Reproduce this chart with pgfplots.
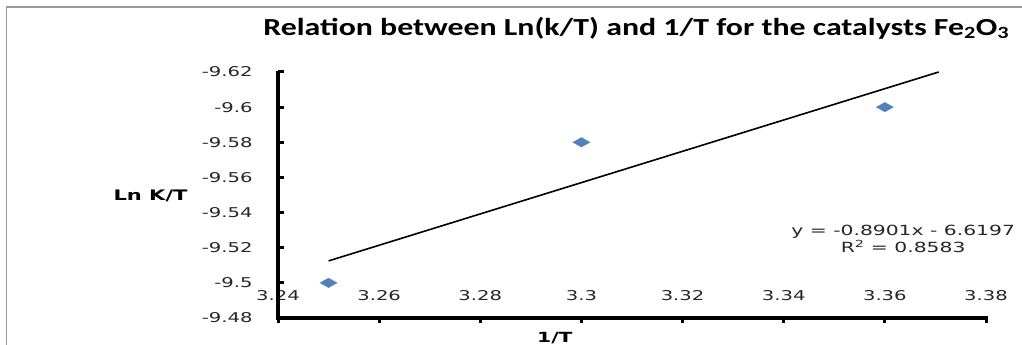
\documentclass[border=0pt]{standalone}
\usepackage{fontspec}
\usepackage{pgfplots}
\pgfplotsset{compat=1.18}
\setmainfont[FakeStretch=1.45]{DejaVu Sans}
\newfontfamily\titlefont[FakeStretch=1.3]{Carlito}
\definecolor{mkblue}{RGB}{79,129,189}
\begin{document}
\begin{tikzpicture}
\path[use as bounding box] (0,0) rectangle (1022pt,345pt);
\fill[black!40] (6pt,0) rectangle (7.2pt,338.6pt);
\fill[black!40] (6pt,337.4pt) rectangle (1022pt,338.6pt);
\begin{axis}[
  at={(278pt,27pt)}, anchor=south west,
  scale only axis, width=708pt, height=246pt,
  xmin=3.24, xmax=3.38, ymin=-9.62, ymax=-9.48,
  y dir=reverse,
  axis x line*=bottom, axis y line*=left,
  axis line style={line width=3.5pt},
  xtick={3.24,3.26,3.28,3.3,3.32,3.34,3.36,3.38},
  ytick={-9.62,-9.6,-9.58,-9.56,-9.54,-9.52,-9.5,-9.48},
  tick align=inside, major tick length=6pt,
  tick style={black, line width=3pt},
  xtick style={yshift=-5pt},
  /pgf/number format/assume math mode=true,
  ticklabel style={font=\fontsize{13.5}{15}\selectfont, text=black!85},
  xticklabel style={anchor=center, yshift=22pt},
  yticklabel style={anchor=east, xshift=-22pt},
  xlabel={\bfseries 1/T},
  ylabel={\bfseries Ln K/T},
  every axis x label/.style={at={(rel axis cs:0.391,-0.081)}, anchor=center, font=\fontsize{14}{15}\selectfont},
  every axis y label/.style={at={(rel axis cs:-0.18,0.496)}, anchor=center, font=\fontsize{14.5}{15}\selectfont},
  title={\titlefont\bfseries Relation between Ln(k/T) and 1/T for the catalysts Fe\textsubscript{2}O\textsubscript{3}},
  every axis title/.style={at={(rel axis cs:0.506,1.179)}, anchor=center, font=\fontsize{24.5}{27}\selectfont},
  clip=false,
]
\addplot[only marks, mark=diamond*, mark size=4.7pt, color=mkblue, mark options={xscale=2.4}]
  coordinates {(3.25,-9.5) (3.30,-9.58) (3.36,-9.6)};
\addplot[black, line width=1.6pt] coordinates {(3.25,-9.5125) (3.37065,-9.62)};
\node[align=center, font=\fontsize{14}{16.5}\selectfont, text=black!85] at (rel axis cs:0.883,0.321)
  {y = -0.8901x - 6.6197\\R\textsuperscript{2} = 0.8583};
\end{axis}
\fill[black] (276pt,25pt) rectangle (280pt,274pt);
\fill[black] (276pt,25pt) rectangle (988pt,29pt);
\end{tikzpicture}
\end{document}
